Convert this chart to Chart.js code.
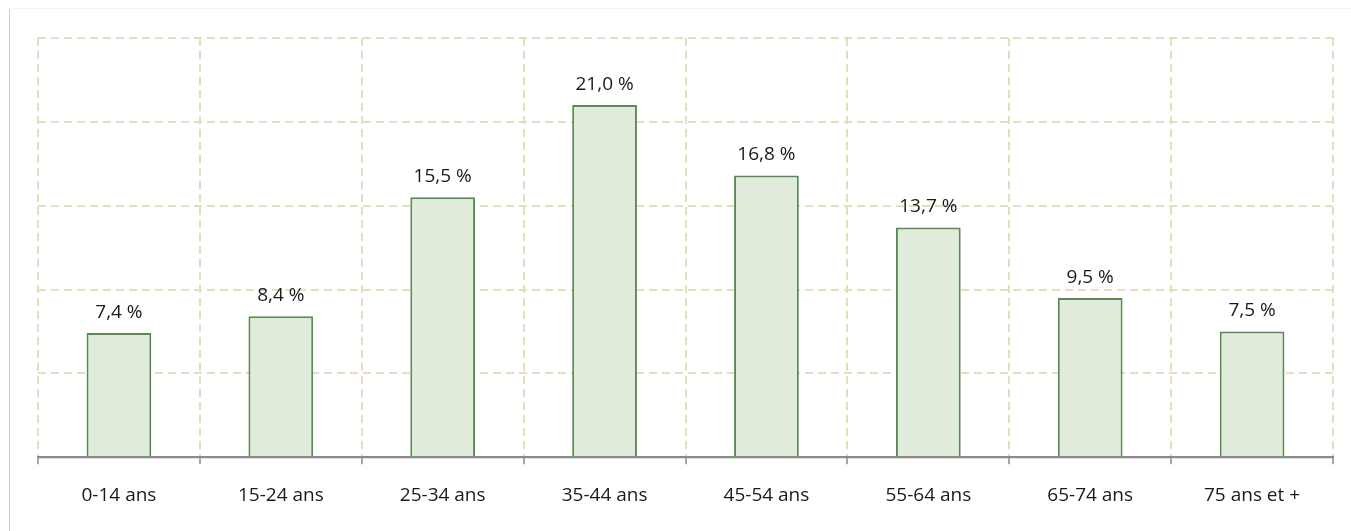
<!DOCTYPE html>
<html>
<head>
<meta charset="utf-8">
<script src="https://cdn.jsdelivr.net/npm/chart.js@4/dist/chart.umd.min.js"></script>
<style>
  html, body { margin: 0; padding: 0; background: #ffffff; }
  #wrap { position: relative; width: 1351px; height: 531px; overflow: hidden; }
  #frameLeft { position: absolute; left: 9px; top: 9px; width: 1px; height: 522px; background: #c9d3c2; }
  #frameTop { position: absolute; left: 9px; top: 8px; width: 1342px; height: 1px; background: #f3f3f3; }
  canvas { position: absolute; left: 0; top: 0; }
</style>
</head>
<body>
<div id="wrap">
  <div id="frameTop"></div>
  <div id="frameLeft"></div>
  <canvas id="c" width="1351" height="531"></canvas>
</div>
<script>
const categories = ["0-14 ans", "15-24 ans", "25-34 ans", "35-44 ans", "45-54 ans", "55-64 ans", "65-74 ans", "75 ans et +"];
const shares = [7.4, 8.4, 15.5, 21.0, 16.8, 13.7, 9.5, 7.5];
const yTicks = [0, 5, 10, 15, 20, 25];

const FONT = "'Open Sans', 'Liberation Sans', sans-serif";

const valueLabels = {
  id: 'valueLabels',
  afterDatasetsDraw(chart) {
    const ctx = chart.ctx;
    const meta = chart.getDatasetMeta(0);
    ctx.save();
    ctx.font = "19px " + FONT;
    ctx.fillStyle = "#1a1a1a";
    ctx.textAlign = "center";
    ctx.textBaseline = "alphabetic";
    meta.data.forEach((bar, i) => {
      const txt = shares[i].toFixed(1).replace('.', ',') + " %";
      ctx.fillText(txt, bar.x, bar.y - 15);
    });
    ctx.restore();
  }
};

// solid x-axis line drawn over the dashed zero grid line
const axisLine = {
  id: 'axisLine',
  afterDraw(chart) {
    const ctx = chart.ctx;
    const a = chart.chartArea;
    const y = chart.scales.y.getPixelForValue(0);
    ctx.save();
    ctx.setLineDash([]);
    ctx.strokeStyle = '#8a8a8a';
    ctx.lineWidth = 2;
    ctx.beginPath();
    ctx.moveTo(a.left, y);
    ctx.lineTo(a.right, y);
    ctx.stroke();
    ctx.restore();
  }
};

new Chart(document.getElementById('c'), {
  type: 'bar',
  data: {
    labels: categories,
    datasets: [{
      data: shares,
      backgroundColor: '#e0ebdc',
      borderColor: '#5a8a54',
      borderWidth: 2,
      borderSkipped: 'bottom',
      barPercentage: 0.4,
      categoryPercentage: 1.0
    }]
  },
  options: {
    responsive: false,
    animation: false,
    devicePixelRatio: 1,
    layout: { padding: { left: 38, right: 18, top: 38, bottom: 4 } },
    plugins: { legend: { display: false }, tooltip: { enabled: false } },
    scales: {
      x: {
        grid: {
          display: true,
          offset: true,
          color: '#e5ddbd',
          lineWidth: 2,
          drawTicks: true,
          tickLength: 7,
          tickColor: '#8a8a8a',
          tickBorderDash: [],
          tickWidth: 1.5
        },
        border: { display: true, color: '#8a8a8a', width: 2, dash: [8, 5] },
        ticks: {
          color: '#1a1a1a',
          font: { family: FONT, size: 19 },
          padding: 20,
          maxRotation: 0,
          autoSkip: false
        }
      },
      y: {
        min: 0,
        max: 25,
        afterBuildTicks(scale) { scale.ticks = yTicks.map(v => ({ value: v })); },
        grid: {
          color: '#e5ddbd',
          lineWidth: 2,
          drawTicks: false
        },
        border: { display: false, dash: [8, 5] },
        ticks: { display: false }
      }
    }
  },
  plugins: [valueLabels, axisLine]
});
</script>
</body>
</html>
